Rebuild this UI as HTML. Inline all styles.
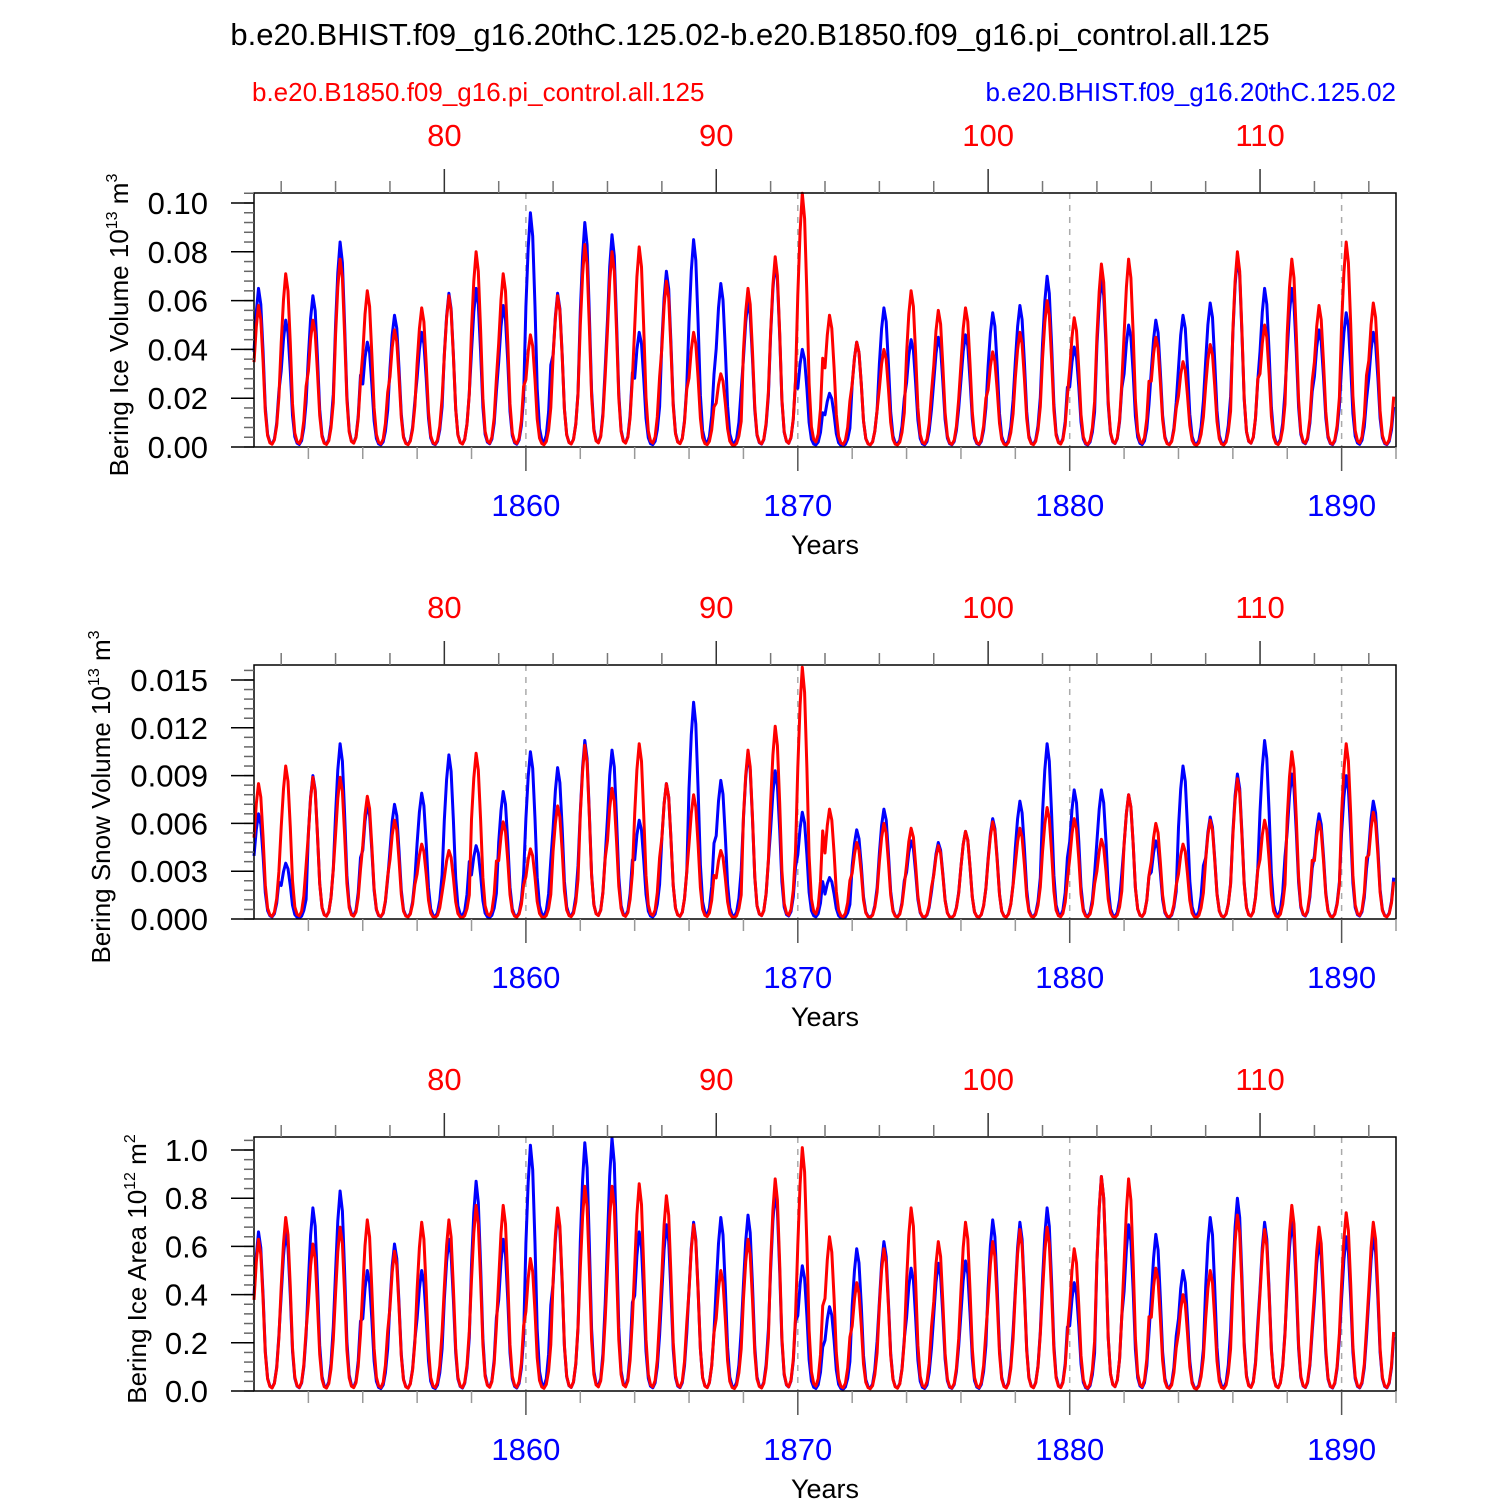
<!DOCTYPE html>
<html><head><meta charset="utf-8"><style>
body{margin:0;background:#fff}
svg{display:block;font-family:"Liberation Sans",sans-serif}
</style></head><body>
<svg id="c" width="1500" height="1500" xmlns="http://www.w3.org/2000/svg">
<text x="750" y="45" text-anchor="middle" font-size="31">b.e20.BHIST.f09_g16.20thC.125.02-b.e20.B1850.f09_g16.pi_control.all.125</text>
<text x="252" y="101" font-size="26" fill="#f00">b.e20.B1850.f09_g16.pi_control.all.125</text>
<text x="1396" y="101" font-size="26" fill="#00f" text-anchor="end">b.e20.BHIST.f09_g16.20thC.125.02</text>
</svg>
<script>
const years = [1860,1870,1880,1890];
const topTicks = [80,90,100,110];
const season = [0.6,0.85,1.0,0.9,0.6,0.25,0.08,0.03,0.02,0.05,0.15,0.35];
const iceVolBlue = [0.065,0.052,0.062,0.084,0.043,0.054,0.047,0.063,0.065,0.058,0.096,0.063,0.092,0.087,0.047,0.072,0.085,0.067,0.060,0.076,0.040,0.022,0.043,0.057,0.044,0.045,0.046,0.055,0.058,0.070,0.041,0.069,0.050,0.052,0.054,0.059,0.078,0.065,0.065,0.048,0.055,0.047];
const iceVolRed = [0.058,0.071,0.052,0.077,0.064,0.048,0.057,0.062,0.080,0.071,0.046,0.062,0.083,0.080,0.082,0.068,0.047,0.030,0.065,0.078,0.104,0.054,0.043,0.040,0.064,0.056,0.057,0.039,0.047,0.060,0.053,0.075,0.077,0.045,0.035,0.042,0.080,0.050,0.077,0.058,0.084,0.059];
const snowBlue = [0.0066,0.0035,0.009,0.011,0.0072,0.0072,0.0079,0.0103,0.0046,0.008,0.0105,0.0095,0.0112,0.0106,0.0062,0.0085,0.0136,0.0087,0.0104,0.0093,0.0067,0.0026,0.0056,0.0069,0.0049,0.0048,0.0055,0.0063,0.0074,0.011,0.0081,0.0081,0.0078,0.0049,0.0096,0.0064,0.0091,0.0112,0.0091,0.0066,0.0090,0.0074];
const snowRed = [0.0085,0.0096,0.0089,0.0089,0.0077,0.0062,0.0047,0.0043,0.0104,0.0061,0.0044,0.0071,0.0109,0.0082,0.011,0.0085,0.0078,0.0043,0.0106,0.0121,0.0158,0.0069,0.0048,0.0060,0.0057,0.0046,0.0055,0.0061,0.0057,0.0070,0.0063,0.0050,0.0078,0.0060,0.0047,0.0062,0.0088,0.0062,0.0105,0.0061,0.011,0.0067];
const areaBlue = [0.66,0.66,0.76,0.83,0.50,0.61,0.50,0.63,0.87,0.63,1.02,0.74,1.03,1.05,0.66,0.69,0.70,0.72,0.73,0.83,0.52,0.35,0.59,0.62,0.51,0.53,0.54,0.71,0.70,0.76,0.45,0.89,0.69,0.65,0.50,0.72,0.80,0.70,0.70,0.62,0.64,0.64];
const areaRed = [0.63,0.72,0.61,0.68,0.71,0.58,0.70,0.71,0.77,0.77,0.55,0.76,0.85,0.85,0.86,0.81,0.69,0.50,0.63,0.88,1.01,0.64,0.45,0.59,0.76,0.62,0.70,0.62,0.67,0.68,0.59,0.89,0.88,0.51,0.40,0.50,0.73,0.67,0.77,0.68,0.74,0.70];
const panelNames = ['ice-volume','snow-volume','ice-area'];
const yTicks1 = ['0.00','0.02','0.04','0.06','0.08','0.10'];
const yTicks2 = ['0.000','0.003','0.006','0.009','0.012','0.015'];
const yTicks3 = ['0.0','0.2','0.4','0.6','0.8','1.0'];

const NS='http://www.w3.org/2000/svg', svg=document.getElementById('c');
const X0=254,X1=1396,Y0=1850,YR=42;
const xs=t=>X0+(t-Y0)*(X1-X0)/YR;
function mk(tag,at,par){const e=document.createElementNS(NS,tag);for(const k in at)e.setAttribute(k,at[k]);(par||svg).appendChild(e);return e;}
const panels=[
 {top:193,bot:447,max:0.1041,ticks:yTicks1,minorStep:0.004,blue:iceVolBlue,red:iceVolRed,label:'Bering Ice Volume 10',exp:'13',unit:' m',uexp:'3',lx:128},
 {top:665,bot:919,max:0.01594,ticks:yTicks2,minorStep:0.0006,blue:snowBlue,red:snowRed,label:'Bering Snow Volume 10',exp:'13',unit:' m',uexp:'3',lx:110},
 {top:1137,bot:1391,max:1.054,ticks:yTicks3,minorStep:0.04,blue:areaBlue,red:areaRed,label:'Bering Ice Area 10',exp:'12',unit:' m',uexp:'2',lx:146}
];
panels.forEach((p,pi)=>{
 const g=mk('g',{});
 
 
 const ys=v=>p.bot-v/p.max*(p.bot-p.top);
 years.forEach(y=>{const l=mk('line',{x1:xs(y),x2:xs(y),y1:p.top,y2:p.bot,stroke:'#aaa','stroke-width':1.5,'stroke-dasharray':'6 6'},g);
  
  });
 [['blue',p.blue,'#00f'],['red',p.red,'#f00']].forEach(([nm,arr,col])=>{
  let d='';
  for(let k=0;k<arr.length;k++)for(let m=0;m<12;m++){
   const v=arr[k]*season[m];const x=xs(Y0+k+m/12),y=ys(v);
   d+=(d?'L':'M')+x.toFixed(1)+' '+y.toFixed(1);}
  const path=mk('path',{d:d,fill:'none',stroke:col,'stroke-width':3,'stroke-linejoin':'round'},g);
  
  
 });
 mk('rect',{x:X0,y:p.top,width:X1-X0,height:p.bot-p.top,fill:'none',stroke:'#000','stroke-width':1.5},g);
 for(let v=0;v<=p.max+1e-9;v+=p.minorStep){const y=ys(v);mk('line',{x1:X0-10,x2:X0,y1:y,y2:y,stroke:'#666','stroke-width':1.5},g);}
 p.ticks.forEach(t=>{const y=ys(parseFloat(t));mk('line',{x1:X0-23,x2:X0,y1:y,y2:y,stroke:'#000','stroke-width':1.5},g);
  const tx=mk('text',{x:X0-46,y:y+11,'text-anchor':'end','font-size':31},g);tx.textContent=t;
  
  });
 for(let y=1852;y<=1892;y+=2){const x=xs(y);const maj=years.includes(y);
  mk('line',{x1:x,x2:x,y1:p.bot,y2:p.bot+(maj?24:12),stroke:maj?'#555':'#999','stroke-width':1.5},g);}
 years.forEach(y=>{const t=mk('text',{x:xs(y),y:p.bot+69,'text-anchor':'middle','font-size':31,fill:'#00f'},g);t.textContent=y;
  
  });
 for(let y=1851;y<=1891;y+=2){const x=xs(y);const maj=topTicks.includes(y-1777);
  mk('line',{x1:x,x2:x,y1:p.top-(maj?24:12),y2:p.top,stroke:maj?'#333':'#777','stroke-width':1.5},g);}
 topTicks.forEach(v=>{const t=mk('text',{x:xs(v+1777),y:p.top-47,'text-anchor':'middle','font-size':31,fill:'#f00'},g);t.textContent=v;
  
  });
 const xt=mk('text',{x:825,y:p.bot+107,'text-anchor':'middle','font-size':27},g);xt.textContent='Years';
 
 
 const cy=(p.top+p.bot)/2+5;
 const yt=mk('text',{x:0,y:0,'text-anchor':'middle','font-size':26,transform:`translate(${p.lx},${cy}) rotate(-90)`},g);
 
 
 yt.innerHTML=`${p.label}<tspan dy="-11" font-size="16">${p.exp}</tspan><tspan dy="11">${p.unit}</tspan><tspan dy="-11" font-size="16">${p.uexp}</tspan>`;
});
</script>
</body></html>
